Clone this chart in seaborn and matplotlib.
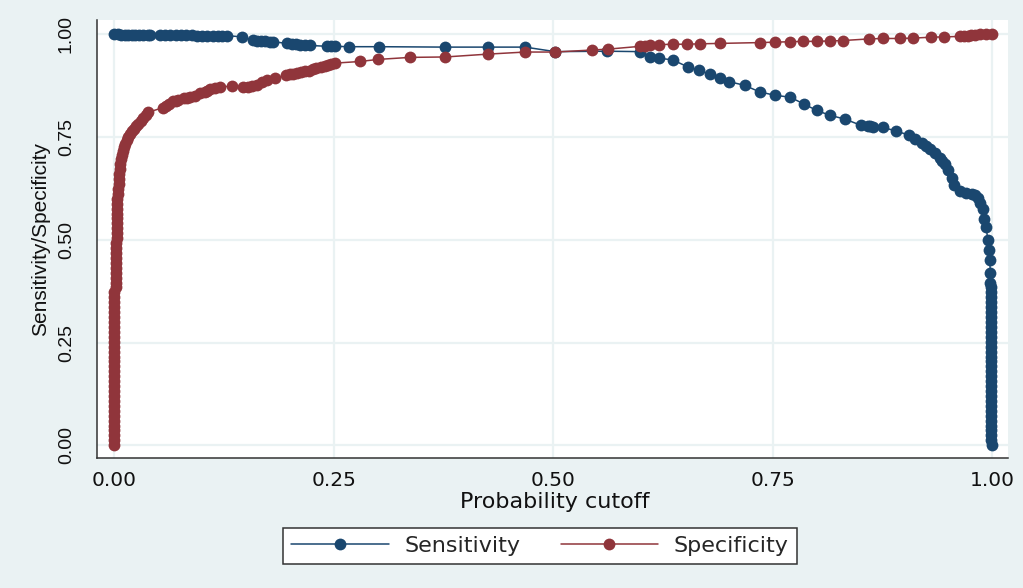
import matplotlib
matplotlib.use('Agg')
import matplotlib.pyplot as plt
import seaborn as sns
import pandas as pd

# sensitivity curve (probability cutoff, value)
sens_x = [0.000, 0.004, 0.008, 0.012, 0.016, 0.020, 0.024, 0.028, 0.033, 0.038, 0.041,
          0.052, 0.058, 0.064, 0.070, 0.076, 0.082, 0.088, 0.094, 0.100, 0.106, 0.112,
          0.118, 0.123, 0.128, 0.145, 0.158, 0.162, 0.167, 0.172, 0.177, 0.181, 0.197,
          0.202, 0.207, 0.212, 0.217, 0.223, 0.242, 0.247, 0.251, 0.267, 0.302, 0.377,
          0.426, 0.468, 0.502, 0.561, 0.599, 0.610, 0.620, 0.636, 0.653, 0.666, 0.678,
          0.690, 0.700, 0.718, 0.735, 0.752, 0.770, 0.786, 0.800, 0.815, 0.832, 0.850,
          0.858, 0.861, 0.864, 0.875, 0.890, 0.905, 0.912, 0.920, 0.925, 0.929, 0.935,
          0.940, 0.943, 0.946, 0.950, 0.954, 0.957, 0.963, 0.970, 0.977, 0.980, 0.984,
          0.986, 0.989, 0.991, 0.993, 0.995, 0.996, 0.997, 0.998, 0.998,
          0.999, 0.999, 0.999, 0.999, 0.999, 0.999, 0.999, 0.999, 0.999, 0.999,
          0.999, 0.999, 0.999, 0.999, 0.999, 0.999, 0.999, 0.999, 0.999, 0.999,
          0.999, 0.999, 0.999, 0.999, 0.999, 0.999, 0.999, 0.999, 0.999, 0.999,
          0.999, 0.999, 1.000]
sens_y = [1.000, 1.000, 0.999, 0.999, 0.999, 0.999, 0.998, 0.998, 0.998, 0.998, 0.998,
          0.998, 0.998, 0.998, 0.998, 0.998, 0.998, 0.998, 0.997, 0.997, 0.997, 0.997,
          0.997, 0.997, 0.997, 0.994, 0.986, 0.984, 0.983, 0.983, 0.982, 0.982, 0.978,
          0.976, 0.976, 0.975, 0.974, 0.973, 0.971, 0.971, 0.971, 0.970, 0.970, 0.969,
          0.969, 0.969, 0.958, 0.959, 0.958, 0.946, 0.942, 0.938, 0.921, 0.913, 0.903,
          0.893, 0.885, 0.876, 0.860, 0.852, 0.847, 0.830, 0.815, 0.803, 0.794, 0.779,
          0.778, 0.776, 0.775, 0.774, 0.765, 0.755, 0.745, 0.735, 0.728, 0.722, 0.711,
          0.700, 0.692, 0.685, 0.670, 0.650, 0.633, 0.620, 0.615, 0.612, 0.609, 0.602,
          0.590, 0.575, 0.550, 0.530, 0.500, 0.476, 0.450, 0.420, 0.396,
          0.384, 0.372, 0.360, 0.348, 0.336, 0.324, 0.312, 0.300, 0.288, 0.276,
          0.264, 0.252, 0.240, 0.228, 0.216, 0.204, 0.192, 0.180, 0.168, 0.156,
          0.144, 0.132, 0.120, 0.108, 0.096, 0.084, 0.072, 0.060, 0.048, 0.036,
          0.024, 0.012, 0.000]

# specificity curve (probability cutoff, value)
spec_x = [0.000, 0.000, 0.000, 0.000, 0.000, 0.000, 0.000, 0.000, 0.000, 0.000,
          0.000, 0.000, 0.000, 0.000, 0.000, 0.000, 0.000, 0.000, 0.000, 0.000,
          0.000, 0.000, 0.000, 0.000, 0.000, 0.000, 0.000, 0.000, 0.000, 0.000,
          0.000, 0.000, 0.002, 0.002, 0.002, 0.002, 0.002, 0.002, 0.002, 0.002,
          0.002, 0.002, 0.003, 0.003, 0.003, 0.003, 0.003, 0.003, 0.003, 0.003,
          0.003, 0.004, 0.004, 0.005, 0.005, 0.005, 0.006, 0.007, 0.008, 0.009,
          0.010, 0.011, 0.012, 0.014, 0.016, 0.018, 0.020, 0.022, 0.025, 0.027,
          0.030, 0.033, 0.036, 0.038, 0.056, 0.059, 0.062, 0.067, 0.070, 0.073,
          0.079, 0.083, 0.086, 0.092, 0.098, 0.103, 0.106, 0.109, 0.115, 0.120,
          0.134, 0.147, 0.152, 0.157, 0.162, 0.168, 0.174, 0.183, 0.196, 0.200,
          0.204, 0.208, 0.213, 0.217, 0.222, 0.226, 0.230, 0.235, 0.240, 0.243,
          0.247, 0.251, 0.280, 0.300, 0.337, 0.377, 0.426, 0.468, 0.502, 0.544,
          0.562, 0.599, 0.605, 0.610, 0.620, 0.636, 0.652, 0.667, 0.690, 0.735,
          0.752, 0.770, 0.785, 0.800, 0.815, 0.830, 0.860, 0.875, 0.895, 0.910,
          0.930, 0.945, 0.963, 0.968, 0.972, 0.976, 0.980, 0.986, 0.993, 1.000]
spec_y = [0.000, 0.012, 0.024, 0.036, 0.048, 0.060, 0.072, 0.084, 0.096, 0.108,
          0.120, 0.132, 0.144, 0.156, 0.168, 0.180, 0.192, 0.204, 0.216, 0.228,
          0.240, 0.252, 0.264, 0.276, 0.288, 0.300, 0.312, 0.324, 0.336, 0.348,
          0.360, 0.372, 0.384, 0.396, 0.408, 0.420, 0.432, 0.444, 0.456, 0.468,
          0.480, 0.492, 0.504, 0.516, 0.528, 0.540, 0.552, 0.564, 0.576, 0.588,
          0.600, 0.612, 0.624, 0.636, 0.648, 0.660, 0.672, 0.684, 0.696, 0.706,
          0.716, 0.725, 0.733, 0.742, 0.750, 0.757, 0.764, 0.770, 0.777, 0.783,
          0.790, 0.797, 0.804, 0.810, 0.822, 0.826, 0.830, 0.837, 0.839, 0.841,
          0.845, 0.846, 0.847, 0.851, 0.857, 0.860, 0.863, 0.866, 0.869, 0.872,
          0.874, 0.873, 0.872, 0.874, 0.877, 0.883, 0.889, 0.893, 0.901, 0.903,
          0.904, 0.906, 0.908, 0.910, 0.912, 0.915, 0.917, 0.920, 0.923, 0.925,
          0.928, 0.930, 0.934, 0.939, 0.944, 0.945, 0.952, 0.957, 0.957, 0.962,
          0.964, 0.971, 0.972, 0.974, 0.975, 0.976, 0.976, 0.977, 0.978, 0.980,
          0.981, 0.982, 0.983, 0.983, 0.984, 0.985, 0.989, 0.990, 0.990, 0.991,
          0.993, 0.994, 0.995, 0.996, 0.997, 0.998, 0.999, 1.000, 1.000, 1.000]

x_ticks = [0.00, 0.25, 0.50, 0.75, 1.00]
y_ticks = [0.00, 0.25, 0.50, 0.75, 1.00]

blue = '#1a476f'
red = '#90353b'
bg = '#eaf2f3'
ink = '#111111'

sns.set_style('white')
plt.rcParams['font.family'] = ['DejaVu Sans']

fig = plt.figure(figsize=(10.23, 5.88), dpi=100, facecolor=bg)
ax = fig.add_axes([0.0948, 0.2211, 0.8905, 0.7449])
ax.set_facecolor('white')

sens = pd.DataFrame({'cutoff': sens_x, 'value': sens_y})
spec = pd.DataFrame({'cutoff': spec_x, 'value': spec_y})

sns.lineplot(data=sens, x='cutoff', y='value', estimator=None, sort=False,
             color=blue, marker='o', markersize=8.5, markeredgewidth=0,
             linewidth=1.1, label='Sensitivity', ax=ax)
sns.lineplot(data=spec, x='cutoff', y='value', estimator=None, sort=False,
             color=red, marker='o', markersize=8.5, markeredgewidth=0,
             linewidth=1.1, label='Specificity', ax=ax)

ax.set_xlim(-0.0197, 1.0179)
ax.set_ylim(-0.031, 1.035)
ax.set_xticks(x_ticks)
ax.set_yticks(y_ticks)
ax.set_xticklabels([f'{t:.2f}' for t in x_ticks], fontsize=14.5)
ax.set_yticklabels([f'{t:.2f}' for t in y_ticks], fontsize=14, rotation=90,
                   va='center', family='Liberation Sans')
ax.tick_params(axis='both', direction='out', length=7, width=1, color='#333333',
               labelcolor=ink)
ax.tick_params(axis='x', pad=2.5)
ax.tick_params(axis='y', pad=9)
ax.grid(True, color=bg, linewidth=1.6)
ax.set_axisbelow(True)

for side in ['top', 'right']:
    ax.spines[side].set_visible(False)
for side in ['left', 'bottom']:
    ax.spines[side].set_color('#333333')
    ax.spines[side].set_linewidth(1.1)

ax.set_xlabel('Probability cutoff', fontsize=16, color=ink)
ax.set_ylabel('Sensitivity/Specificity', fontsize=15, color=ink,
              family='Liberation Sans')
ax.xaxis.set_label_coords(0.503, -0.077)
ax.yaxis.set_label_coords(-0.052, 0.5)

ax.get_legend().remove()
handles, labels = ax.get_legend_handles_labels()
leg = fig.legend(handles, labels, loc='center', bbox_to_anchor=(540 / 1023, 1 - 546 / 588),
                 ncol=2, fontsize=16, frameon=True, fancybox=False,
                 handlelength=4.4, handletextpad=0.7, columnspacing=1.8,
                 borderpad=0.35, borderaxespad=0)
leg.get_frame().set_edgecolor('#333333')
leg.get_frame().set_linewidth(1.1)
leg.get_frame().set_facecolor('white')
leg.get_frame().set_alpha(1)

fig.savefig('out.png', dpi=100, facecolor=bg)
